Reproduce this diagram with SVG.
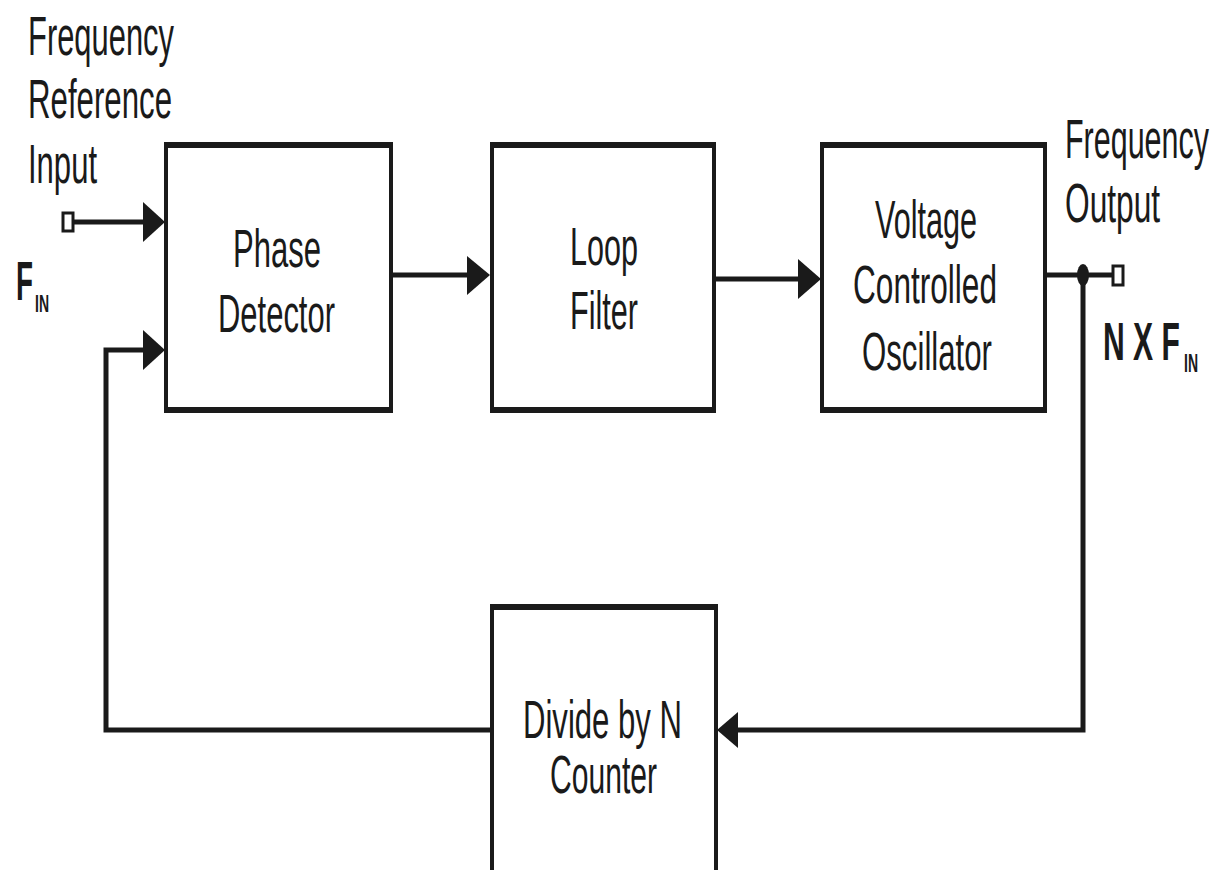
<svg xmlns="http://www.w3.org/2000/svg" width="1227" height="870" viewBox="0 0 1227 870">
<style>
.box{fill:#fff;stroke:#1a1a1a;stroke-width:4}
.edge{stroke:#1a1a1a;stroke-width:6}
.ln{fill:none;stroke:#1a1a1a;stroke-width:5}
.head{fill:#1a1a1a;stroke:none}
.term{fill:#fff;stroke:#1a1a1a;stroke-width:3}
.t{font-family:"Liberation Sans",Arial,sans-serif;font-size:53px;fill:#1a1a1a}
.l{font-size:55px}
.b{font-family:"Liberation Sans",Arial,sans-serif;font-weight:bold;fill:#1a1a1a}
</style>
<rect width="1227" height="870" fill="#fff"/>

<g id="connectors">
  <!-- input -->
  <rect class="term" x="63" y="213" width="10" height="18"/>
  <line class="ln" x1="74" y1="222" x2="145" y2="222"/>
  <polygon class="head" points="143,202 165,222 143,242"/>
  <!-- PD -> LF -->
  <line class="ln" x1="391" y1="275" x2="469" y2="275"/>
  <polygon class="head" points="467,256 490,275 467,295"/>
  <!-- LF -> VCO -->
  <line class="ln" x1="714" y1="279" x2="800" y2="279"/>
  <polygon class="head" points="798,259 821,279 798,299"/>
  <!-- output -->
  <line class="ln" x1="1045" y1="275" x2="1113" y2="275"/>
  <rect class="term" x="1113" y="266" width="10" height="19"/>
  <ellipse class="head" cx="1083" cy="275" rx="6" ry="11"/>
  <!-- feedback -->
  <polyline class="ln" points="1083,275 1083,730 736,730"/>
  <polygon class="head" points="738,712 717,730 738,748"/>
  <polyline class="ln" points="492,730 106,730 106,350 145,350"/>
  <polygon class="head" points="143,330 165,350 143,370"/>
</g>

<g id="pd">
  <rect class="box" x="166" y="145" width="225" height="265"/>
  <line class="edge" x1="164" y1="145" x2="393" y2="145"/>
  <line class="edge" x1="164" y1="410" x2="393" y2="410"/>
  <text class="t" x="233" y="267" textLength="88" lengthAdjust="spacingAndGlyphs">Phase</text>
  <text class="t" x="218" y="332" textLength="117" lengthAdjust="spacingAndGlyphs">Detector</text>
</g>

<g id="lf">
  <rect class="box" x="492" y="145" width="222" height="265"/>
  <line class="edge" x1="490" y1="145" x2="716" y2="145"/>
  <line class="edge" x1="490" y1="410" x2="716" y2="410"/>
  <text class="t" x="570" y="265" textLength="68" lengthAdjust="spacingAndGlyphs">Loop</text>
  <text class="t" x="570" y="329" textLength="68" lengthAdjust="spacingAndGlyphs">Filter</text>
</g>

<g id="vco">
  <rect class="box" x="822" y="145" width="223" height="265"/>
  <line class="edge" x1="820" y1="145" x2="1047" y2="145"/>
  <line class="edge" x1="820" y1="410" x2="1047" y2="410"/>
  <text class="t" x="875" y="238" textLength="102" lengthAdjust="spacingAndGlyphs">Voltage</text>
  <text class="t" x="853" y="303" textLength="144" lengthAdjust="spacingAndGlyphs">Controlled</text>
  <text class="t" x="862" y="370" textLength="130" lengthAdjust="spacingAndGlyphs">Oscillator</text>
</g>

<g id="div">
  <rect class="box" x="492" y="607" width="224" height="280"/>
  <line class="edge" x1="490" y1="607" x2="718" y2="607"/>
  <text class="t" x="523" y="738" textLength="159" lengthAdjust="spacingAndGlyphs">Divide by N</text>
  <text class="t" x="550" y="793" textLength="107" lengthAdjust="spacingAndGlyphs">Counter</text>
</g>

<g id="input-label">
  <text class="t l" x="28" y="55" textLength="146" lengthAdjust="spacingAndGlyphs">Frequency</text>
  <text class="t l" x="28" y="118" textLength="144" lengthAdjust="spacingAndGlyphs">Reference</text>
  <text class="t l" x="28" y="183" textLength="69" lengthAdjust="spacingAndGlyphs">Input</text>
  <text class="b" font-size="55" transform="translate(16,300) scale(0.506,1)">F</text>
  <text class="b" font-size="23" transform="translate(35,312) scale(0.61,1)">IN</text>
</g>

<g id="output-label">
  <text class="t l" transform="translate(1065,158) scale(0.554,1)">Frequency</text>
  <text class="t l" transform="translate(1065,222) scale(0.576,1)">Output</text>
  <text class="b" font-size="53" transform="translate(1103,360) scale(0.568,1)">N X F</text>
  <text class="b" font-size="25" transform="translate(1184,372) scale(0.56,1)">IN</text>
</g>
</svg>
